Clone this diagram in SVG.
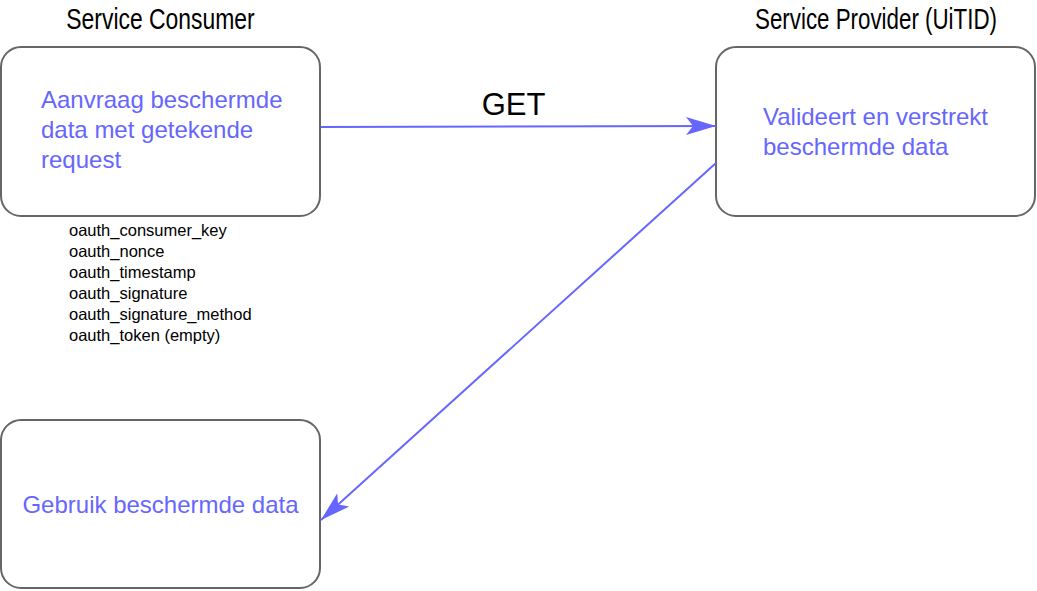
<svg xmlns="http://www.w3.org/2000/svg" width="1037" height="591" viewBox="0 0 1037 591">
<style>
.box{fill:#fff;stroke:#666;stroke-width:2}
.head{font-family:"Liberation Sans",Arial,sans-serif;font-size:29px;fill:#000}
.blue{font-family:"Liberation Sans",Arial,sans-serif;font-size:24px;fill:#6666ff}
.small{font-family:"Liberation Sans",Arial,sans-serif;font-size:16.5px;fill:#000}
.conn{stroke:#6666ff;stroke-width:2;fill:none}
</style>
<defs>
<marker id="ah" viewBox="0 0 30 20" refX="30" refY="10" markerWidth="30" markerHeight="20" markerUnits="userSpaceOnUse" orient="auto">
<path d="M0,1 L30,10 L0,19 L7,10 Z" fill="#6666ff"/>
</marker>
</defs>
<rect width="1037" height="591" fill="#fff"/>
<text class="head" transform="translate(160.5,29) scale(0.79,1)" text-anchor="middle">Service Consumer</text>
<text class="head" transform="translate(876,29) scale(0.77,1)" text-anchor="middle">Service Provider (UiTID)</text>
<g id="consumer">
<rect class="box" x="1" y="47" width="319" height="169" rx="20"/>
<text class="blue" x="41" y="108">Aanvraag beschermde</text>
<text class="blue" x="41" y="138">data met getekende</text>
<text class="blue" x="41" y="168">request</text>
</g>
<g id="provider">
<rect class="box" x="716" y="47" width="319" height="169" rx="20"/>
<text class="blue" x="763" y="125">Valideert en verstrekt</text>
<text class="blue" x="763" y="155">beschermde data</text>
</g>
<g id="use">
<rect class="box" x="1" y="420" width="319" height="168" rx="20"/>
<text class="blue" x="160.5" y="513" text-anchor="middle">Gebruik beschermde data</text>
</g>
<g id="params">
<text class="small" x="69" y="236">oauth_consumer_key</text>
<text class="small" x="69" y="257">oauth_nonce</text>
<text class="small" x="69" y="278">oauth_timestamp</text>
<text class="small" x="69" y="299">oauth_signature</text>
<text class="small" x="69" y="320">oauth_signature_method</text>
<text class="small" x="69" y="341">oauth_token (empty)</text>
</g>
<g id="connectors">
<line class="conn" x1="321" y1="127" x2="716" y2="126" marker-end="url(#ah)"/>
<text x="513.5" y="115" text-anchor="middle" font-family="Liberation Sans, Arial, sans-serif" font-size="31" fill="#000">GET</text>
<line class="conn" x1="716" y1="163" x2="321" y2="520" marker-end="url(#ah)"/>
</g>
</svg>
